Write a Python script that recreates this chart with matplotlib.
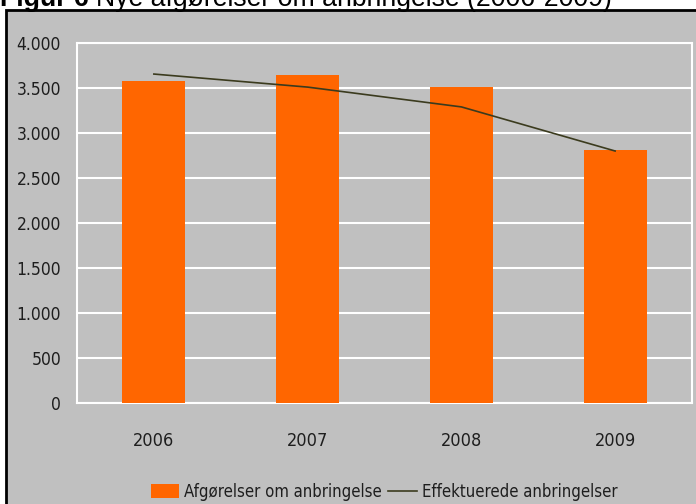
import matplotlib.pyplot as plt
from matplotlib.patches import Rectangle
import numpy as np

years = ["2006", "2007", "2008", "2009"]
afgorelser = [3580, 3645, 3510, 2810]
effektuerede = [3655, 3510, 3290, 2800]
yticks = [0, 500, 1000, 1500, 2000, 2500, 3000, 3500, 4000]
ytick_labels = ["0", "500", "1.000", "1.500", "2.000", "2.500", "3.000", "3.500", "4.000"]

cond = dict(family="DejaVu Sans", stretch="condensed")
grey = "#c0c0c0"
orange = "#ff6600"
ink = "#1e1e1e"

fig = plt.figure(figsize=(6.96, 5.04), dpi=100)
fig.patch.set_facecolor("white")

# grey chart frame with black border, partly outside the picture
frame = Rectangle((6 / 696, -0.05), 1.0, 1 - 10 / 504 + 0.05,
                  transform=fig.transFigure, facecolor=grey,
                  edgecolor="black", linewidth=2, zorder=-5)
fig.patches.append(frame)

# title, its top is cut by the picture edge as in the original
t1 = fig.text(0.0, 1 - 6 / 504, "Figur 6 ", fontsize=19.2, fontweight="bold",
              family="Liberation Sans", va="baseline", ha="left")
fig.canvas.draw()
w = t1.get_window_extent().width / fig.bbox.width
fig.text(w, 1 - 6 / 504, "Nye afgørelser om anbringelse (2006-2009)",
         fontsize=19.2, family="Liberation Sans", va="baseline", ha="left")

ax = fig.add_axes([77 / 696, 1 - 403 / 504, (692 - 77) / 696, (403 - 43) / 504])
ax.set_zorder(2)
ax.set_facecolor(grey)
x = np.arange(len(years))
bars = ax.bar(x, afgorelser, width=0.41, color=orange, zorder=3,
              label="Afgørelser om anbringelse")
line, = ax.plot(x, effektuerede, color="#3b3b1e", linewidth=1.2, zorder=4,
                label="Effektuerede anbringelser")

ax.set_xlim(-0.5, 3.5)
ax.set_ylim(0, 4000)
ax.set_yticks(yticks)
ax.set_yticklabels(ytick_labels, fontsize=12.5, color=ink, **cond)
ax.set_xticks(x)
ax.set_xticklabels(years, fontsize=13, color=ink, **cond)
ax.tick_params(length=0)
ax.tick_params(axis="y", pad=11.5)
ax.tick_params(axis="x", pad=21)
ax.grid(axis="y", color="white", linewidth=1.5, zorder=1)
for s in ax.spines.values():
    s.set_color("white")
    s.set_linewidth(1.5)

leg = fig.legend([bars, line], [bars.get_label(), line.get_label()],
                 loc="center", bbox_to_anchor=(384 / 696, 1 - 492 / 504), ncol=2,
                 frameon=False, prop=dict(size=12, **cond), handlelength=1.7,
                 handleheight=0.9, columnspacing=0.4, handletextpad=0.3)
leg.set_zorder(3)
for txt in leg.get_texts():
    txt.set_color(ink)

fig.savefig("out.png", dpi=100)
